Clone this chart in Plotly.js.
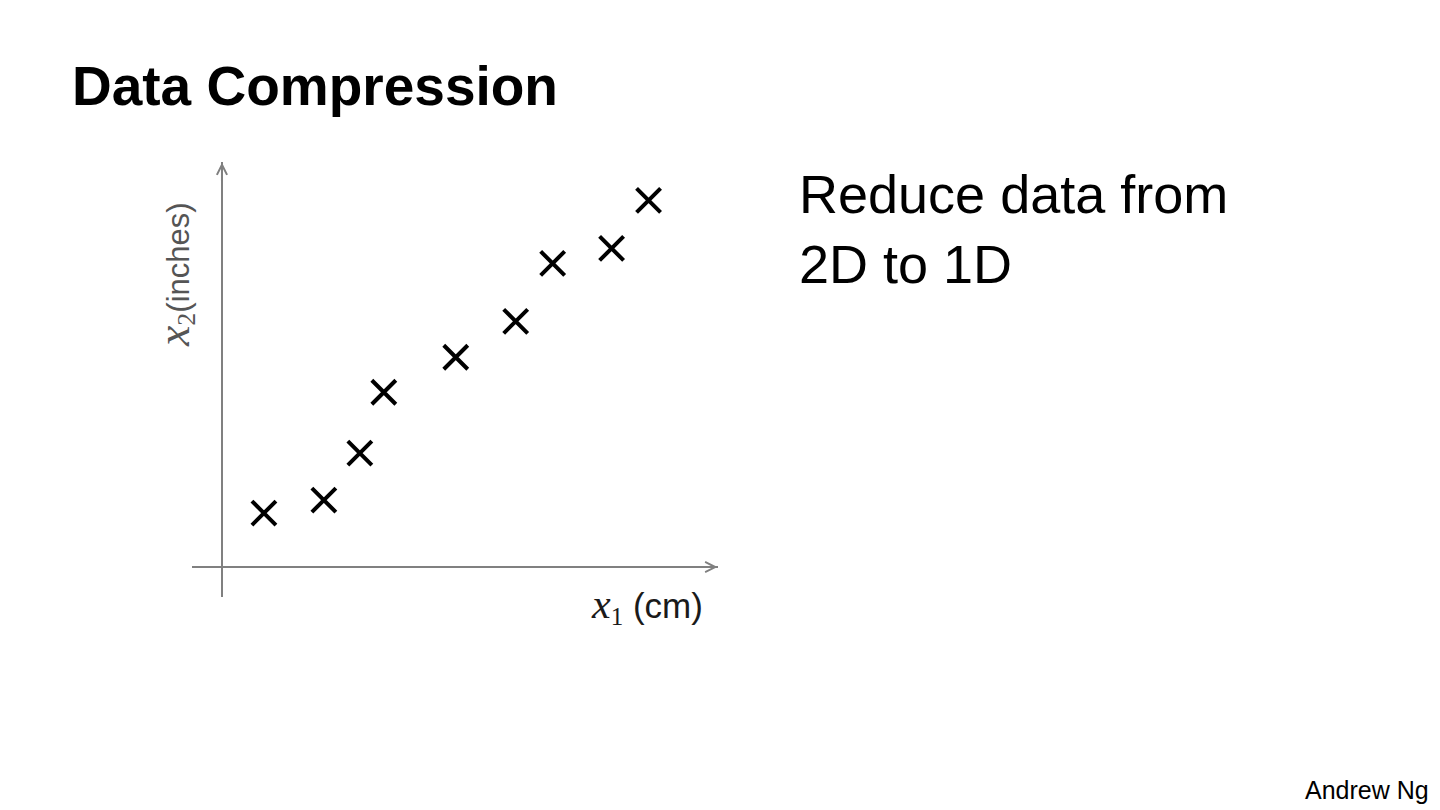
<!DOCTYPE html>
<html>
<head>
<meta charset="utf-8">
<script src="https://cdn.plot.ly/plotly-3.0.1.min.js"></script>
<style>html,body{margin:0;padding:0;background:#fff;}#chart{width:1440px;height:810px;}</style>
</head>
<body>
<div id="chart"></div>
<script>
// Data (arbitrary units)
const x1_cm = [4.2, 10.2, 13.8, 16.2, 23.4, 29.4, 33.1, 39.0, 42.7];
const x2_inches = [5.4, 6.7, 11.4, 17.5, 21.0, 24.6, 30.4, 31.9, 36.7];
const xRange = [-3.0, 49.65];
const yRange = [-3.0, 40.55];

const titleText = 'Data Compression';
const sideText = 'Reduce data from<br>2D to 1D';
const authorText = 'Andrew Ng';
const xLabel = '<span style="font-family:Liberation Serif;font-size:42px"><i>x</i></span><sub><span style="font-family:Liberation Serif;font-size:25px">1</span></sub> (cm)';
const yLabel = '<span style="font-family:Liberation Serif;font-size:46px"><i>x</i></span><sub><span style="font-family:Liberation Serif;font-size:26px">2</span></sub>(inches)';

const axisGray = '#808080';
const sans = "'Liberation Sans', Arial, sans-serif";

const trace = {
  type: 'scatter',
  mode: 'markers',
  x: x1_cm,
  y: x2_inches,
  marker: {symbol: 'x-thin-open', size: 24, color: '#000', line: {width: 4, color: '#000'}},
  hoverinfo: 'skip',
  showlegend: false
};

const layout = {
  width: 1440,
  height: 810,
  paper_bgcolor: '#fff',
  plot_bgcolor: '#fff',
  margin: {l: 192, r: 722, t: 162, b: 213, pad: 0},
  font: {family: sans, color: '#000'},
  title: {
    text: '<b>' + titleText + '</b>',
    xref: 'container', yref: 'container',
    x: 0.05, xanchor: 'left',
    y: 0.894, yanchor: 'middle',
    font: {family: sans, size: 55, color: '#000'}
  },
  xaxis: {
    range: xRange, showgrid: false, showticklabels: false, ticks: '',
    zeroline: true, zerolinecolor: axisGray, zerolinewidth: 2, showline: false, fixedrange: true
  },
  yaxis: {
    range: yRange, showgrid: false, showticklabels: false, ticks: '',
    zeroline: true, zerolinecolor: axisGray, zerolinewidth: 2, showline: false, fixedrange: true
  },
  annotations: [
    {x: xRange[1] - 0.05, y: 0, xref: 'x', yref: 'y', text: '', showarrow: true,
     ax: -20, ay: 0, arrowhead: 5, arrowsize: 1, arrowwidth: 2, arrowcolor: axisGray, standoff: 0},
    {x: 0, y: yRange[1] - 0.05, xref: 'x', yref: 'y', text: '', showarrow: true,
     ax: 0, ay: 20, arrowhead: 5, arrowsize: 1, arrowwidth: 2, arrowcolor: axisGray, standoff: 0},
    {x: 0.976, y: -0.020, xref: 'paper', yref: 'paper', xanchor: 'right', yanchor: 'middle',
     text: xLabel, showarrow: false, font: {family: sans, size: 35, color: '#1a1a1a'}},
    {x: -0.0323, y: 0.740, xref: 'paper', yref: 'paper', xanchor: 'center', yanchor: 'middle',
     textangle: -90, text: yLabel, showarrow: false, font: {family: sans, size: 31, color: '#555'}},
    {x: 1.150, y: 0.845, xref: 'paper', yref: 'paper', xanchor: 'left', yanchor: 'middle', align: 'left',
     text: sideText, showarrow: false, font: {family: sans, size: 54, color: '#000'}},
    {x: 2.356, y: -0.444, xref: 'paper', yref: 'paper', xanchor: 'right', yanchor: 'middle',
     text: authorText, showarrow: false, font: {family: sans, size: 25, color: '#000'}}
  ]
};

Plotly.newPlot('chart', [trace], layout, {displayModeBar: false, staticPlot: true});
</script>
</body>
</html>
